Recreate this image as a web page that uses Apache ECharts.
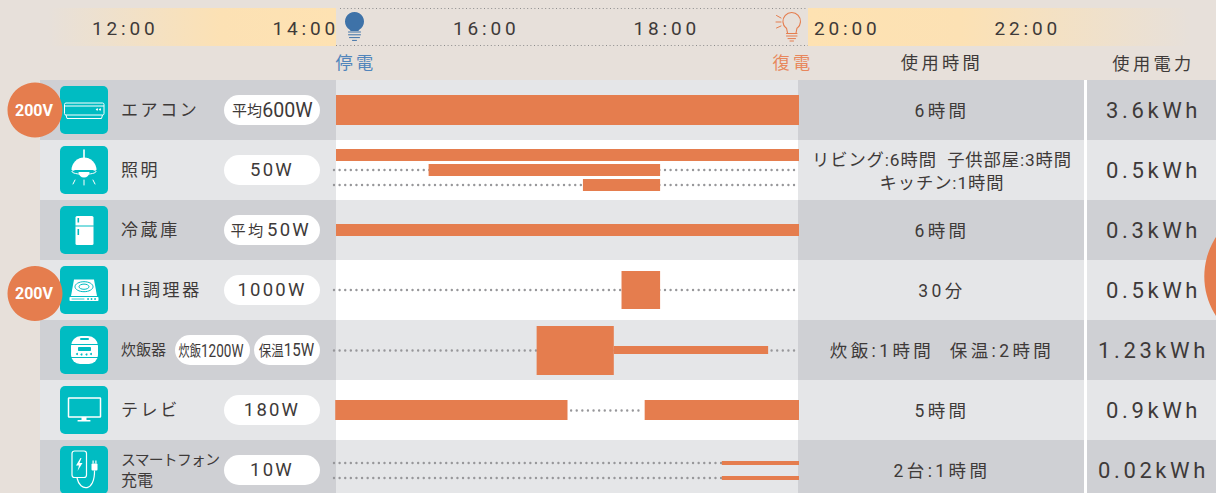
<!DOCTYPE html>
<html>
<head>
<meta charset="utf-8">
<script src="https://cdn.jsdelivr.net/npm/echarts@6/dist/echarts.min.js"></script>
<style>
html,body{margin:0;padding:0;background:#e7e0da;overflow:hidden}
#main{width:1216px;height:493px}
/* echarts text has no letter spacing option, the svg renderer lets css do it */
#main text[style*="19px"]{letter-spacing:3.8px}
#main text[style*="22px"]{letter-spacing:3.6px}
#main text[style*="18.5px"]{letter-spacing:2.2px}
#main text[style*="17px"]{letter-spacing:2.6px}
#main text[style*="17.5px"]{letter-spacing:3.4px}
#main text[style*="17.2px"]{letter-spacing:3.4px}
#main text[style*="17.3px"]{letter-spacing:.9px}
#main text[style*="15.2px"]{letter-spacing:2.4px}
#main text[style*="14.8px"]{letter-spacing:-.7px}
</style>
</head>
<body>
<div id="main"></div>
<script>
var timeTicks = ['12:00','14:00','16:00','18:00','20:00','22:00'];
var appliances = ['エアコン','照明','冷蔵庫','IH調理器','炊飯器','テレビ','スマートフォン\n充電'];
var powerLabels = [['平均600W'],['50W'],['平均50W'],['1000W'],['炊飯1200W','保温15W'],['180W'],['10W']];
var usageTimes = ['6時間','リビング:6時間  子供部屋:3時間\nキッチン:1時間','6時間','30分','炊飯:1時間  保温:2時間','5時間','2台:1時間'];
var energyUse = ['3.6kWh','0.5kWh','0.3kWh','0.5kWh','1.23kWh','0.9kWh','0.02kWh'];
var highVoltageRows = [0,3];

/* 使用している時間帯 [開始,終了] */
var blackout = [14,20];
var airconRuns = [[14,20]];
var lightRuns = [[14,20],[15.2,18.2],[17.2,18.2]];
var fridgeRuns = [[14,20]];
var ihRuns = [[17.7,18.2]];
var riceRuns = [[16.6,17.6],[17.6,19.6]];
var tvRuns = [[13.99,17],[18,20]];
var phoneRuns = [[19,20],[19,20]];
var allRuns = [airconRuns,lightRuns,fridgeRuns,ihRuns,riceRuns,tvRuns,phoneRuns];
/* 使っていない時間の点線 [行,開始,終了] */
var idleRows = [1,1,3,4,5,6,6];
var idleFrom = [14,14,14,14,17,14,14];
var idleTo = [20,20,20,20,18,20,20];

/* 見た目 */
var FONT = "Roboto, 'Noto Sans CJK JP', sans-serif";
var ORANGE = '#e57d4e', TEAL = '#00bcc2', INK = '#3e3a39', DARKROW = '#cfd0d4', LIGHTROW = '#e5e6e8';
/* 行ごとのバーの位置と太さ [中心からのずれ,太さ] */
var runStyle = [
    [[0,30]],
    [[-15,12],[0,12],[15,12]],
    [[0,12]],
    [[0,38]],
    [[0.5,49],[0,8]],
    [[0,20],[0,20]],
    [[-7,4],[8,4]]
];
var idleOffsets = [0,15,0,0.5,0.5,-7,8];
var pxPerHour = 463/6;

function rect(x,y,w,h,fill,r){ return {type:'rect',shape:{x:x,y:y,width:w,height:h,r:r||0},style:{fill:fill}}; }
function frame(x,y,w,h,r,lw){ return {type:'rect',shape:{x:x,y:y,width:w,height:h,r:r},style:{fill:'none',stroke:'#fff',lineWidth:lw}}; }
function line(x1,y1,x2,y2,color,lw){ return {type:'line',shape:{x1:x1,y1:y1,x2:x2,y2:y2},style:{stroke:color,lineWidth:lw,fill:'none',lineCap:'round'}}; }
function dot(x,y,r,fill){ return {type:'circle',shape:{cx:x,cy:y,r:r},style:{fill:fill}}; }
function oval(x,y,rx,ry,color,lw){ return {type:'ellipse',shape:{cx:x,cy:y,rx:rx,ry:ry},style:{fill:'none',stroke:color,lineWidth:lw}}; }
function poly(points,fill){ return {type:'polygon',shape:{points:points},style:{fill:fill}}; }

/* アイコンは48x48の中に描く */
var icons = [
    [ frame(4.5,17,39.5,12,1.5,1), line(5,20,43.5,20,'#fff',1), dot(37,23.5,1,'#fff'), dot(40,23.5,1,'#fff'),
      {type:'polyline',shape:{points:[[6,29],[7,32.5],[41.5,32.5],[42.5,29]]},style:{fill:'none',stroke:'#fff',lineWidth:1}} ],
    [ line(24,4,24,12,'#fff',1.6),
      {type:'sector',shape:{cx:24,cy:24,r:12.5,r0:0,startAngle:Math.PI,endAngle:Math.PI*2},style:{fill:'#fff'}},
      poly([[20,12],[28,12],[30,15],[18,15]],'#fff'),
      oval(24,25.5,12,2.8,'#fff',1),
      {type:'sector',shape:{cx:24,cy:26,r:5.5,r0:0,startAngle:0,endAngle:Math.PI},style:{fill:'#fff'}},
      line(15,34,13,38,'#fff',1), line(24,34,24,39,'#fff',1), line(33,34,35,38,'#fff',1) ],
    [ rect(15.5,10,18,29,'#fff',1.5), line(15.5,20,33.5,20,TEAL,1), rect(17.5,12,1.6,4.5,TEAL), rect(17.5,23,1.6,6,TEAL) ],
    [ poly([[14,13.5],[34,13.5],[37,30],[11,30]],'#fff'), oval(24,20.7,9,5,TEAL,1), oval(24,20.7,5,2.6,TEAL,1),
      rect(9.5,31,29,4,'#fff',.8), dot(28,33,.9,TEAL), dot(31.5,33,.9,TEAL), dot(35,33,.9,TEAL), line(12,33,24,33,TEAL,.8) ],
    [ rect(11,10,27,28,'#fff',[10,10,9,9]), rect(20,12,9,2,TEAL,1), line(11,18.5,38,18.5,TEAL,1),
      rect(18,21,13,4,TEAL,.8), dot(17,28,1,TEAL), dot(21.5,28.5,1,TEAL), dot(26.5,28.5,1,TEAL), dot(31,28,1,TEAL),
      line(11,31.5,38,31.5,TEAL,1) ],
    [ frame(8.5,12,32,19,.5,1.5), rect(21.5,31,5,3,'#fff'), rect(17.5,34,13,1.6,'#fff',.5) ],
    [ frame(12,5,14.5,26.5,2.5,1.2), poly([[20.5,12],[16,19.5],[19,19.5],[17.5,25],[22.5,17],[19.5,17],[21.5,12]],'#fff'),
      rect(31.5,17.5,6,7,'#fff',1), rect(32.5,14.5,1.2,3,'#fff'), rect(35.3,14.5,1.2,3,'#fff'),
      {type:'bezierCurve',shape:{x1:34.5,y1:24.5,cpx1:35,cpy1:46,cpx2:20,cpy2:46,x2:17,y2:32},style:{fill:'none',stroke:'#fff',lineWidth:1.2}} ]
];

/* バーのデータ [開始,終了,行,レーン番号] */
var runData = [];
allRuns.forEach(function(runs,row){
    runs.forEach(function(r,i){ runData.push([r[0],r[1],row,i]); });
});
var rowData = appliances.map(function(n,i){ return [blackout[0],blackout[1],i]; });
var idleData = idleRows.map(function(r,i){ return [idleFrom[i],idleTo[i],r,idleOffsets[i]]; });

function txt(x,y,text,font,color,extra){
    var el = {type:'text',x:x,y:y,style:{text:text,font:font+' '+FONT,fill:color,align:'center',verticalAlign:'middle'}};
    for(var k in (extra||{})) el.style[k] = extra[k];
    return el;
}

function renderBands(params,api){
    var cy = api.coord([14,api.value(2)])[1], x0 = api.coord([api.value(0),0])[0], x1 = api.coord([api.value(1),0])[0];
    var h = api.size([0,1])[1], i = params.dataIndex;
    var a = i%2 ? LIGHTROW : DARKROW, b = i%2 ? '#fff' : LIGHTROW;
    return {type:'group',children:[
        rect(40,cy-h/2,x0-40,h,a), rect(x0,cy-h/2,x1-x0-1,h,b),
        rect(x1-1,cy-h/2,286,h,a), rect(1084,cy-h/2,3,h,'#fff'), rect(1087,cy-h/2,129,h,a)
    ]};
}

function renderIdle(params,api){
    var cy = api.coord([14,api.value(2)])[1]+api.value(3);
    var x0 = api.coord([api.value(0),0])[0]-2, x1 = api.coord([api.value(1),0])[0]-2;
    return {type:'line',shape:{x1:x0,y1:cy,x2:x1,y2:cy},style:{stroke:'#97979a',lineWidth:2.4,lineCap:'round',lineDash:[.01,5.6],fill:'none'}};
}

function renderRun(params,api){
    var s = runStyle[api.value(2)][api.value(3)];
    var cy = api.coord([14,api.value(2)])[1]+s[0];
    var x0 = api.coord([api.value(0),0])[0], x1 = api.coord([api.value(1),0])[0];
    return rect(x0,cy-s[1]/2,x1-x0,s[1],ORANGE);
}

function renderColumns(params,api){
    var i = params.dataIndex, cy = api.coord([14,i])[1];
    var kids = [ {type:'group',x:60,y:cy-24,children:[rect(0,0,48,48,TEAL,5)].concat(icons[i])} ];
    var p = powerLabels[i];
    if(p.length==2){
        kids.push(rect(175,cy-15,75,30,'#fff',15), rect(254,cy-15,66,30,'#fff',15));
        [[211,p[0],.77],[286.5,p[1],.86]].forEach(function(q){
            var m = q[1].match(/^(\D+)(.*)$/);
            var t = txt(q[0],cy+.5,'{a|'+m[1]+'}{b|'+m[2]+'}','17.6px',INK,{rich:{a:{fontSize:14.5,fontFamily:FONT,fill:INK},b:{fontSize:17.6,fontFamily:FONT,fill:INK}}});
            t.scaleX = q[2];
            kids.push(t);
        });
    } else {
        kids.push(rect(224,cy-15,96,30,'#fff',15));
        var m = p[0].match(/^(\D+)(.*)$/);
        if(m){
            var wide = i==0;
            kids.push(txt(wide?247:248,cy+.5,m[1],wide?'15px':'15.2px',INK));
            kids.push(txt(wide?287.5:289,cy,m[2],wide?'19.6px':'18.5px',INK));
        } else {
            kids.push(txt(272,cy,p[0],'18.5px',INK));
        }
    }
    var two = usageTimes[i].indexOf('\n')>=0;
    kids.push(txt(942,cy+1,usageTimes[i],two?'17.3px':'17.5px',INK,two?{lineHeight:23}:null));
    kids.push(txt(1153.5,cy,energyUse[i],'22px',INK));
    return {type:'group',children:kids};
}

function renderBadges(params,api){
    var row = api.value(0);
    var cy = api.coord([14,row])[1]+(row==0?0:3.5);
    return {type:'group',children:[dot(35,cy,27.5,ORANGE),
        txt(34,cy,'200V','bold 16px','#fff')]};
}

/* ヘッダの電球 */
function renderBulbs(){
    return {type:'group',children:[
        dot(354.5,21.5,9.5,'#3e72a8'), poly([[349,27],[360,27],[358.5,31],[350.5,31]],'#3e72a8'),
        line(348.5,32,360.5,32,'#3e72a8',1), line(348.5,34.8,360.5,34.8,'#3e72a8',1), line(349.5,37.6,359.5,37.6,'#3e72a8',1), line(352.5,40.4,356.5,40.4,'#3e72a8',1),
        {type:'arc',shape:{cx:791.7,cy:21.3,r:8.8,startAngle:Math.PI*.72,endAngle:Math.PI*.28,clockwise:true},style:{fill:'none',stroke:ORANGE,lineWidth:1.1}},
        line(786.5,28,787.5,33,ORANGE,1.1), line(797,28,796,33,ORANGE,1.1),
        line(786.5,33.5,797,33.5,ORANGE,1), line(786.5,36,797,36,ORANGE,1), line(788,38.6,795.5,38.6,ORANGE,1), line(790,41,793.5,41,ORANGE,1),
        line(776.5,15.5,781,18,ORANGE,1), line(776,22,781,22,ORANGE,1), line(776.5,28,781,26,ORANGE,1),
        dot(1277,276.5,72.7,ORANGE)
    ]};
}

var chart = echarts.init(document.getElementById('main'),null,{renderer:'svg'});
chart.setOption({
    backgroundColor:'#e7e0da',
    animation:false,
    graphic:{elements:[
        {type:'rect',shape:{x:48,y:8,width:288,height:38},style:{fill:{type:'linear',x:0,y:0,x2:1,y2:0,colorStops:[{offset:0,color:'rgba(253,226,179,0)'},{offset:.6,color:'#fce1b4'},{offset:1,color:'#fee2b2'}]}}},
        {type:'rect',shape:{x:808,y:8,width:382,height:38},style:{fill:{type:'linear',x:0,y:0,x2:1,y2:0,colorStops:[{offset:0,color:'#fee2b2'},{offset:.4,color:'#fce1b4'},{offset:1,color:'rgba(253,226,179,0)'}]}}},
        {type:'line',shape:{x1:340,y1:8.5,x2:808,y2:8.5},style:{stroke:'#8c8c8c',lineWidth:1,lineDash:[1,2.6]}},
        {type:'line',shape:{x1:336,y1:45.5,x2:808,y2:45.5},style:{stroke:'#8c8c8c',lineWidth:1,lineDash:[1,2.6]}},
        {type:'text',x:356,y:63,style:{text:'停電',font:'17.2px '+FONT,fill:'#5185bb',align:'center',verticalAlign:'middle'}},
        {type:'text',x:793,y:63,style:{text:'復電',font:'17.2px '+FONT,fill:'#e8875c',align:'center',verticalAlign:'middle'}},
        {type:'text',x:942,y:63,style:{text:'使用時間',font:'17.2px '+FONT,fill:INK,align:'center',verticalAlign:'middle'}},
        {type:'text',x:1153.5,y:64,style:{text:'使用電力',font:'17.2px '+FONT,fill:INK,align:'center',verticalAlign:'middle'}}
    ]},
    grid:[
        {left:0,top:80,width:1216,height:420,outerBoundsMode:'none'},
        {left:35,top:27,width:1083,height:1}
    ],
    xAxis:[
        {type:'value',gridIndex:0,show:false,min:14-336/pxPerHour,max:14+880/pxPerHour,splitLine:{show:false}},
        {type:'category',gridIndex:1,data:timeTicks,axisLine:{show:false},axisTick:{show:false},splitLine:{show:false},
            axisLabel:{interval:0,margin:0,color:INK,fontSize:19,fontFamily:FONT,verticalAlign:'middle',align:'center'}}
    ],
    yAxis:[
        {type:'category',gridIndex:0,inverse:true,data:appliances,z:10,axisLine:{show:false},axisTick:{show:false},splitLine:{show:false},
            axisLabel:{inside:true,margin:121,color:INK,fontSize:17,fontFamily:FONT,align:'left',lineHeight:22,
                formatter:function(v){
                    if(v.indexOf('\n')>=0){ var s=v.split('\n'); return '{s|'+s[0]+'}\n{t|'+s[1]+'}'; }
                    if(v=='炊飯器') return '{m|'+v+'}';
                    return v;
                },
                rich:{s:{fontSize:14.8,fontFamily:FONT,color:INK,lineHeight:21},t:{fontSize:16,fontFamily:FONT,color:INK,lineHeight:21},m:{fontSize:15,fontFamily:FONT,color:INK}}}},
        {type:'value',gridIndex:1,show:false}
    ],
    series:[
        {type:'custom',name:'bands',z:1,silent:true,coordinateSystem:'cartesian2d',data:rowData,encode:{x:[0,1],y:2},renderItem:renderBands},
        {type:'custom',name:'idle',z:2,silent:true,data:idleData,encode:{x:[0,1],y:2},renderItem:renderIdle},
        {type:'custom',name:'usage',z:3,silent:true,data:runData,encode:{x:[0,1],y:2},renderItem:renderRun},
        {type:'custom',name:'columns',z:4,silent:true,data:rowData,encode:{x:[0,1],y:2},renderItem:renderColumns},
        {type:'custom',name:'badges',z:20,silent:true,data:highVoltageRows.map(function(r){return [r];}),encode:{y:0},renderItem:renderBadges},
        {type:'custom',name:'bulbs',z:20,silent:true,data:[[14,0]],encode:{x:0,y:1},renderItem:renderBulbs,clip:false}
    ]
});
</script>
</body>
</html>
